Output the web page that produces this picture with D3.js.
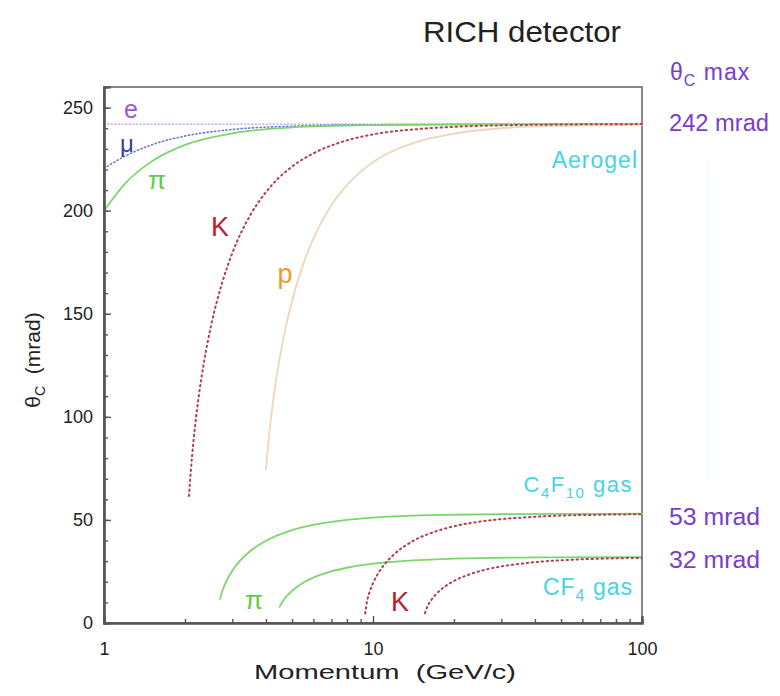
<!DOCTYPE html>
<html>
<head>
<meta charset="utf-8">
<script src="https://cdn.jsdelivr.net/npm/d3@7"></script>
<style>
  html, body { margin: 0; padding: 0; background: #fff; }
  svg { display: block; font-family: "Liberation Sans", Arial, Helvetica, sans-serif; }
</style>
</head>
<body>
<svg id="chart" width="780" height="696"></svg>
<script>
// Cherenkov angle (mrad) versus momentum (GeV/c), pairs of [p, theta]
// Aerogel radiator
const aerogelE  = [[1, 242], [100, 242]];
const aerogelMu = [[1, 220.5], [1.2, 226.5], [1.5, 231.9], [2, 236.2], [3, 239.4], [5, 241.0], [10, 241.7], [30, 241.9], [100, 242]];
const aerogelPi = [[1, 200], [1.2, 213.3], [1.5, 223.8], [2, 231.9], [3, 237.5], [5, 240.4], [10, 241.5], [20, 241.8], [100, 242]];
const aerogelK  = [[2.07, 61.6], [2.1, 72.9], [2.15, 87.9], [2.2, 99.9], [2.25, 109.9], [2.35, 126.1], [2.5, 144.2], [2.75, 165.1], [3, 179.5], [3.5, 197.9], [4, 209.0], [5, 221.4], [6, 227.8], [8, 234.1], [10, 237.0], [15, 239.7], [20, 240.7], [30, 241.4], [50, 241.8], [100, 242]];
const aerogelP  = [[4.0, 74.5], [4.1, 89.8], [4.2, 102.0], [4.35, 116.7], [4.5, 128.5], [4.75, 144.1], [5, 156.2], [5.5, 174.0], [6, 186.4], [7, 202.6], [8, 212.4], [10, 223.5], [12, 229.3], [15, 233.9], [20, 237.4], [30, 240.0], [50, 241.2], [100, 241.7]];
// C4F10 gas radiator
const c4f10Pi = [[2.7, 11.7], [2.75, 15.3], [2.8, 18.0], [2.9, 22.2], [3, 25.4], [3.2, 30.1], [3.5, 34.9], [4, 39.9], [5, 45.1], [6, 47.6], [8, 50.0], [10, 51.1], [15, 52.2], [20, 52.5], [30, 52.8], [50, 52.9], [100, 53.0]];
const c4f10K  = [[9.35, 4.6], [9.5, 10.4], [9.75, 15.7], [10, 19.3], [10.5, 24.5], [11, 28.2], [12, 33.4], [14, 39.6], [17, 44.3], [20, 46.9], [25, 49.2], [30, 50.4], [40, 51.5], [50, 52.1], [70, 52.5], [100, 52.8]];
// CF4 gas radiator
const cf4Pi = [[4.5, 7.9], [4.55, 9.1], [4.7, 11.9], [4.85, 14.0], [5, 15.6], [5.5, 19.5], [6, 22.0], [7, 25.0], [8, 26.8], [10, 28.8], [13, 30.1], [17, 30.9], [25, 31.5], [40, 31.8], [100, 32.0]];
const cf4K  = [[15.6, 4.7], [16, 8.5], [16.5, 11.3], [17, 13.4], [18, 16.5], [20, 20.4], [23, 23.7], [27, 26.3], [32, 28.0], [40, 29.5], [55, 30.7], [75, 31.3], [100, 31.6]];

// Axis ticks
const yMajorTicks = [0, 50, 100, 150, 200, 250];
const yMinorTicks = d3.range(0, 261, 10);
const xMajorTicks = [1, 10, 100];
const xMinorTicks = [2, 3, 4, 5, 6, 7, 8, 9, 20, 30, 40, 50, 60, 70, 80, 90];

const svg = d3.select("#chart");
const x = d3.scaleLog().domain([1, 100]).range([104, 642]);
const y = d3.scaleLinear().domain([0, 260]).range([623, 87]);

// Plot frame
svg.append("rect")
  .attr("x", 104).attr("y", 87).attr("width", 538).attr("height", 536)
  .attr("fill", "none").attr("stroke", "#6a6a6a").attr("stroke-width", 1.6);

// faint guide line at right
svg.append("line").attr("x1", 708).attr("x2", 708).attr("y1", 163).attr("y2", 480)
  .attr("stroke", "#eef8fa").attr("stroke-width", 1.5);

const line = d3.line().x(d => x(d[0])).y(d => y(d[1])).curve(d3.curveMonotoneX);

function curve(data, color, width, dash) {
  const p = svg.append("path").datum(data)
    .attr("d", line).attr("fill", "none")
    .attr("stroke", color).attr("stroke-width", width)
    .attr("stroke-linecap", "round");
  if (dash) p.attr("stroke-dasharray", dash);
  return p;
}

// Aerogel curves
curve(aerogelE, "#b898ee", 1.4, "1.2,2.4");
curve(aerogelMu, "#6f78c8", 1.6, "1.2,2.6");
curve(aerogelPi, "#7cd66c", 1.8);
curve(aerogelP, "#ecd6bc", 1.8);
curve(aerogelK, "#b2404c", 2, "1.4,3.6");
// Gas curves
curve(c4f10Pi, "#7cd66c", 1.8);
curve(cf4Pi, "#7cd66c", 1.8);
curve(c4f10K, "#b2404c", 2, "1.4,3.6");
curve(cf4K, "#b2404c", 2, "1.4,3.6");

// Axes
svg.append("g").attr("transform", "translate(104,0)")
  .call(d3.axisLeft(y).tickValues(yMajorTicks).tickSize(-7).tickPadding(11));
svg.append("g").attr("transform", "translate(104,0)")
  .call(d3.axisLeft(y).tickValues(yMinorTicks).tickSize(-4).tickFormat(""));
svg.append("g").attr("transform", "translate(0,623)")
  .call(d3.axisBottom(x).tickValues(xMajorTicks).tickFormat(d3.format("d")).tickSize(-7).tickPadding(19));
svg.append("g").attr("transform", "translate(0,623)")
  .call(d3.axisBottom(x).tickValues(xMinorTicks).tickSize(-4).tickFormat(""));

svg.selectAll(".domain").attr("stroke", "#555").attr("stroke-width", 2.2);
svg.selectAll(".tick line").attr("stroke", "#555").attr("stroke-width", 1.4);
svg.selectAll(".tick text").attr("fill", "#222").attr("font-size", 18)
  .attr("font-family", "Liberation Sans, Arial, sans-serif");

// Axis titles
svg.append("text").attr("x", 385).attr("y", 679).attr("text-anchor", "middle")
  .attr("font-size", 21).attr("fill", "#222")
  .attr("textLength", 262).attr("lengthAdjust", "spacingAndGlyphs")
  .attr("xml:space", "preserve").text("Momentum  (GeV/c)");

const yt = svg.append("text").attr("transform", "translate(40,360) rotate(-90)")
  .attr("text-anchor", "middle").attr("font-size", 21).attr("fill", "#222");
yt.append("tspan").text("θ");
yt.append("tspan").attr("font-size", 14).attr("dy", 5).text("C");
yt.append("tspan").attr("dy", -5).attr("xml:space", "preserve").text("  (mrad)");

// Title
svg.append("text").attr("x", 423).attr("y", 42)
  .attr("font-size", 29).attr("fill", "#222")
  .attr("textLength", 198).attr("lengthAdjust", "spacingAndGlyphs").text("RICH detector");

// Curve labels
function label(t, px, py, color, size) {
  return svg.append("text").attr("x", px).attr("y", py).attr("fill", color)
    .attr("font-size", size).attr("text-anchor", "middle").attr("dominant-baseline", "central").text(t);
}
label("e", 131, 109, "#9a58d8", 25);
label("μ", 127, 143, "#3c3ca8", 24);
label("π", 157, 180, "#5ecf42", 26);
label("K", 220, 227, "#b8202c", 27);
label("p", 285, 274, "#ef9a2a", 27);
label("π", 254, 600, "#5ecf42", 26);
label("K", 400, 602, "#b8202c", 27);

// Radiator labels
const cyan = "#46d4e4";
svg.append("text").attr("x", 638).attr("y", 168).attr("text-anchor", "end")
  .attr("fill", cyan).attr("font-size", 23).attr("letter-spacing", 1).text("Aerogel");

const c4 = svg.append("text").attr("x", 633).attr("y", 492).attr("text-anchor", "end")
  .attr("fill", cyan).attr("font-size", 22).attr("letter-spacing", 1.5);
c4.append("tspan").text("C");
c4.append("tspan").attr("font-size", 15).attr("dy", 6).text("4");
c4.append("tspan").attr("dy", -6).text("F");
c4.append("tspan").attr("font-size", 15).attr("dy", 6).text("10");
c4.append("tspan").attr("dy", -6).attr("xml:space", "preserve").text(" gas");

const cf = svg.append("text").attr("x", 633).attr("y", 595).attr("text-anchor", "end")
  .attr("fill", cyan).attr("font-size", 23).attr("letter-spacing", 1);
cf.append("tspan").text("CF");
cf.append("tspan").attr("font-size", 16).attr("dy", 6).text("4");
cf.append("tspan").attr("dy", -6).attr("xml:space", "preserve").text(" gas");

// Maximum angle annotations
const purple = "#7a3ccc";
const tm = svg.append("text").attr("x", 670).attr("y", 80).attr("fill", purple)
  .attr("font-size", 23).attr("letter-spacing", 1);
tm.append("tspan").text("θ");
tm.append("tspan").attr("font-size", 16).attr("dy", 6).text("C");
tm.append("tspan").attr("dy", -6).attr("xml:space", "preserve").text(" max");

function note(t, py, w) {
  svg.append("text").attr("x", 669).attr("y", py).attr("fill", purple)
    .attr("font-size", 23).attr("textLength", w).attr("lengthAdjust", "spacingAndGlyphs").text(t);
}
note("242 mrad", 131, 100);
note("53 mrad", 525, 91);
note("32 mrad", 568, 91);
</script>
</body>
</html>
